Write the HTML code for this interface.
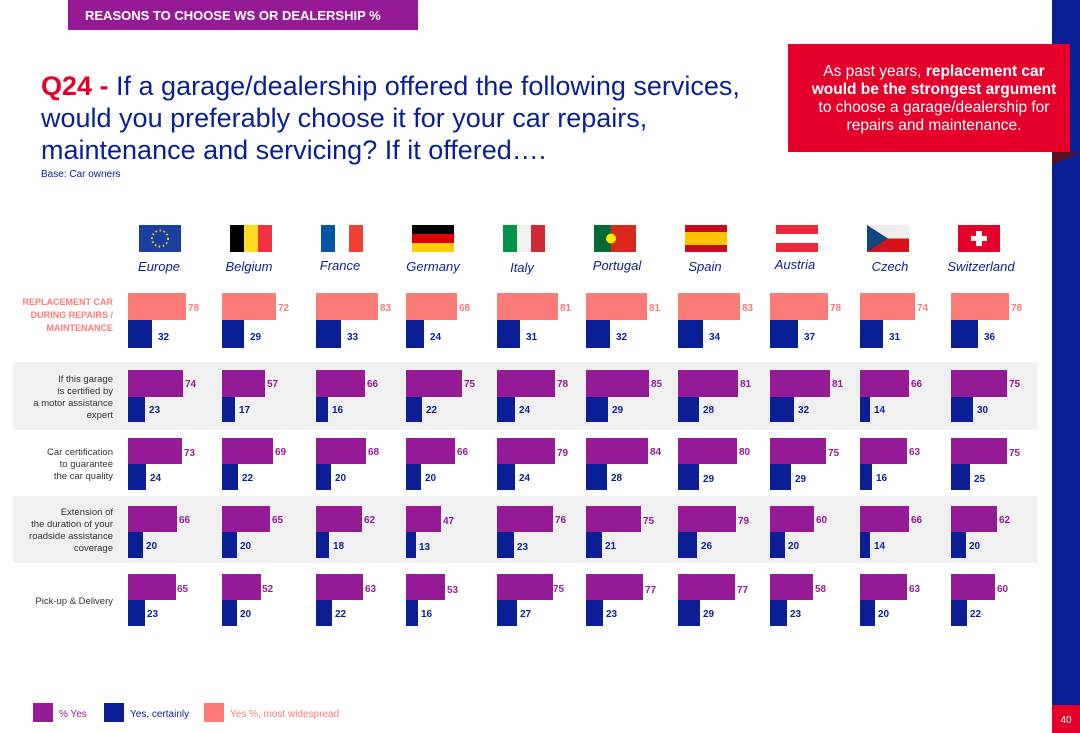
<!DOCTYPE html><html><head><meta charset="utf-8"><style>body{margin:0}svg{display:block;font-family:"Liberation Sans",sans-serif}</style></head><body>
<svg width="1080" height="733" viewBox="0 0 1080 733" xmlns="http://www.w3.org/2000/svg">
<rect width="1080" height="733" fill="#fff"/>
<rect x="68" y="0" width="350" height="30" fill="#951b96"/>
<text x="85" y="20" fill="#fff" font-size="13" font-weight="bold">REASONS TO CHOOSE WS OR DEALERSHIP %</text>
<rect x="1052" y="0" width="28" height="733" fill="#0a1f96"/>
<polygon points="1052,152 1080,152 1052,165" fill="#5a1020"/>
<rect x="788" y="44" width="282" height="108" fill="#e4002b"/>
<g fill="#fff" font-size="15.5" text-anchor="middle"><text x="934" y="76">As past years, <tspan font-weight="bold">replacement car</tspan></text><text x="934" y="94" font-weight="bold">would be the strongest argument</text><text x="934" y="112">to choose a garage/dealership for</text><text x="934" y="130">repairs and maintenance.</text></g>
<rect x="1052" y="705" width="28" height="28" fill="#e4002b"/><text x="1066" y="723" fill="#fff" font-size="10" text-anchor="middle">40</text>
<g font-size="27" fill="#0a1f96"><text x="41" y="95"><tspan fill="#e4002b" font-weight="bold">Q24 -</tspan> If a garage/dealership offered the following services,</text><text x="41" y="127">would you preferably choose it for your car repairs,</text><text x="41" y="159">maintenance and servicing? If it offered….</text></g>
<text x="41" y="177" font-size="10" fill="#0a1f96">Base: Car owners</text>
<rect x="13" y="362" width="1025" height="68" fill="#f0f0f0"/>
<rect x="13" y="496" width="1025" height="67" fill="#f0f0f0"/>
<g font-size="9" fill="#fb7b76" font-weight="bold" text-anchor="end"><text x="113" y="305">REPLACEMENT CAR</text><text x="113" y="318">DURING REPAIRS /</text><text x="113" y="331">MAINTENANCE</text></g>
<g font-size="9.5" fill="#333" text-anchor="end"><text x="113" y="382">If this garage</text><text x="113" y="394">is certified by</text><text x="113" y="406">a motor assistance</text><text x="113" y="418">expert</text>
<text x="113" y="455">Car certification</text><text x="113" y="467">to guarantee</text><text x="113" y="479">the car quality</text>
<text x="113" y="515">Extension of</text><text x="113" y="527">the duration of your</text><text x="113" y="539">roadside assistance</text><text x="113" y="551">coverage</text>
<text x="113" y="604">Pick-up &amp; Delivery</text></g>
<!-- flags -->
<rect x="139" y="225" width="42" height="27" fill="#1a3fa0"/><circle cx="160" cy="238.5" r="8" fill="none" stroke="#ffd800" stroke-width="2" stroke-dasharray="1.5 2.6"/>
<rect x="230" y="225" width="14" height="27" fill="#000"/><rect x="244" y="225" width="14" height="27" fill="#fdda24"/><rect x="258" y="225" width="14" height="27" fill="#ef3340"/>
<rect x="321" y="225" width="14" height="27" fill="#0055a4"/><rect x="335" y="225" width="14" height="27" fill="#fff"/><rect x="349" y="225" width="14" height="27" fill="#ef4135"/>
<rect x="412" y="225" width="42" height="9" fill="#000"/><rect x="412" y="234" width="42" height="9" fill="#dd0000"/><rect x="412" y="243" width="42" height="9" fill="#ffce00"/>
<rect x="503" y="225" width="14" height="27" fill="#009246"/><rect x="517" y="225" width="14" height="27" fill="#f1f1f1"/><rect x="531" y="225" width="14" height="27" fill="#ce2b37"/>
<rect x="594" y="225" width="17" height="27" fill="#046a38"/><rect x="611" y="225" width="25" height="27" fill="#da291c"/><circle cx="611" cy="238.5" r="5" fill="#ffe900"/>
<rect x="685" y="225" width="42" height="7" fill="#c60b1e"/><rect x="685" y="232" width="42" height="13" fill="#ffc400"/><rect x="685" y="245" width="42" height="7" fill="#c60b1e"/>
<rect x="776" y="225" width="42" height="9" fill="#ed2939"/><rect x="776" y="243" width="42" height="9" fill="#ed2939"/>
<rect x="867" y="225" width="42" height="13.5" fill="#eee"/><rect x="867" y="238.5" width="42" height="13.5" fill="#d7141a"/><polygon points="867,225 888,238.5 867,252" fill="#11457e"/>
<rect x="958" y="225" width="42" height="27" fill="#e4002b"/><rect x="976" y="231" width="6" height="15" fill="#fff"/><rect x="971" y="236" width="16" height="5" fill="#fff"/>
<g font-size="13" fill="#0a1f96" font-style="italic" text-anchor="middle"><text x="159" y="271">Europe</text><text x="249" y="271">Belgium</text><text x="340" y="270">France</text><text x="433" y="271">Germany</text><text x="522" y="272">Italy</text><text x="617" y="270">Portugal</text><text x="705" y="271">Spain</text><text x="795" y="269">Austria</text><text x="890" y="271">Czech</text><text x="981" y="271">Switzerland</text></g>
<!-- row 0 -->
<g fill="#fb7b76"><rect x="128" y="293" width="58" height="27"/><rect x="222" y="293" width="54" height="27"/><rect x="316" y="293" width="62" height="27"/><rect x="406" y="293" width="51" height="27"/><rect x="497" y="293" width="61" height="27"/><rect x="586" y="293" width="61" height="27"/><rect x="678" y="293" width="62" height="27"/><rect x="770" y="293" width="58" height="27"/><rect x="860" y="293" width="55" height="27"/><rect x="951" y="293" width="58" height="27"/></g>
<g fill="#fb7b76" font-size="10" font-weight="bold"><text x="188" y="311">78</text><text x="278" y="311">72</text><text x="380" y="311">83</text><text x="459" y="311">68</text><text x="560" y="311">81</text><text x="649" y="311">81</text><text x="742" y="311">83</text><text x="830" y="311">78</text><text x="917" y="311">74</text><text x="1011" y="311">78</text></g>
<g fill="#0a1f96"><rect x="128" y="320" width="24" height="28"/><rect x="222" y="320" width="22" height="28"/><rect x="316" y="320" width="25" height="28"/><rect x="406" y="320" width="18" height="28"/><rect x="497" y="320" width="23" height="28"/><rect x="586" y="320" width="24" height="28"/><rect x="678" y="320" width="25" height="28"/><rect x="770" y="320" width="28" height="28"/><rect x="860" y="320" width="23" height="28"/><rect x="951" y="320" width="27" height="28"/></g>
<g fill="#0a1f96" font-size="10" font-weight="bold"><text x="158" y="340">32</text><text x="250" y="340">29</text><text x="347" y="340">33</text><text x="430" y="340">24</text><text x="526" y="340">31</text><text x="616" y="340">32</text><text x="709" y="340">34</text><text x="804" y="340">37</text><text x="889" y="340">31</text><text x="984" y="340">36</text></g>
<!-- row 1 -->
<g fill="#951b96"><rect x="128" y="370" width="55" height="27"/><rect x="222" y="370" width="43" height="27"/><rect x="316" y="370" width="49" height="27"/><rect x="406" y="370" width="56" height="27"/><rect x="497" y="370" width="58" height="27"/><rect x="586" y="370" width="63" height="27"/><rect x="678" y="370" width="60" height="27"/><rect x="770" y="370" width="60" height="27"/><rect x="860" y="370" width="49" height="27"/><rect x="951" y="370" width="56" height="27"/></g>
<g fill="#951b96" font-size="10" font-weight="bold"><text x="185" y="387">74</text><text x="267" y="387">57</text><text x="367" y="387">66</text><text x="464" y="387">75</text><text x="557" y="387">78</text><text x="651" y="387">85</text><text x="740" y="387">81</text><text x="832" y="387">81</text><text x="911" y="387">66</text><text x="1009" y="387">75</text></g>
<g fill="#0a1f96"><rect x="128" y="397" width="17" height="25"/><rect x="222" y="397" width="13" height="25"/><rect x="316" y="397" width="12" height="25"/><rect x="406" y="397" width="16" height="25"/><rect x="497" y="397" width="18" height="25"/><rect x="586" y="397" width="22" height="25"/><rect x="678" y="397" width="21" height="25"/><rect x="770" y="397" width="24" height="25"/><rect x="860" y="397" width="10" height="25"/><rect x="951" y="397" width="22" height="25"/></g>
<g fill="#0a1f96" font-size="10" font-weight="bold"><text x="149" y="413">23</text><text x="239" y="413">17</text><text x="332" y="413">16</text><text x="426" y="413">22</text><text x="519" y="413">24</text><text x="612" y="413">29</text><text x="703" y="413">28</text><text x="798" y="413">32</text><text x="874" y="413">14</text><text x="977" y="413">30</text></g>
<!-- row 2 -->
<g fill="#951b96"><rect x="128" y="438" width="54" height="26"/><rect x="222" y="438" width="51" height="26"/><rect x="316" y="438" width="50" height="26"/><rect x="406" y="438" width="49" height="26"/><rect x="497" y="438" width="58" height="26"/><rect x="586" y="438" width="62" height="26"/><rect x="678" y="438" width="59" height="26"/><rect x="770" y="438" width="56" height="26"/><rect x="860" y="438" width="47" height="26"/><rect x="951" y="438" width="56" height="26"/></g>
<g fill="#951b96" font-size="10" font-weight="bold"><text x="184" y="456">73</text><text x="275" y="455">69</text><text x="368" y="455">68</text><text x="457" y="455">66</text><text x="557" y="456">79</text><text x="650" y="455">84</text><text x="739" y="455">80</text><text x="828" y="456">75</text><text x="909" y="455">63</text><text x="1009" y="456">75</text></g>
<g fill="#0a1f96"><rect x="128" y="464" width="18" height="26"/><rect x="222" y="464" width="16" height="26"/><rect x="316" y="464" width="15" height="26"/><rect x="406" y="464" width="15" height="26"/><rect x="497" y="464" width="18" height="26"/><rect x="586" y="464" width="21" height="26"/><rect x="678" y="464" width="21" height="26"/><rect x="770" y="464" width="21" height="26"/><rect x="860" y="464" width="12" height="26"/><rect x="951" y="464" width="19" height="26"/></g>
<g fill="#0a1f96" font-size="10" font-weight="bold"><text x="150" y="481">24</text><text x="242" y="481">22</text><text x="335" y="481">20</text><text x="425" y="481">20</text><text x="519" y="481">24</text><text x="611" y="481">28</text><text x="703" y="482">29</text><text x="795" y="482">29</text><text x="876" y="481">16</text><text x="974" y="482">25</text></g>
<!-- row 3 -->
<g fill="#951b96"><rect x="128" y="506" width="49" height="26"/><rect x="222" y="506" width="48" height="26"/><rect x="316" y="506" width="46" height="26"/><rect x="406" y="506" width="35" height="26"/><rect x="497" y="506" width="56" height="26"/><rect x="586" y="506" width="55" height="26"/><rect x="678" y="506" width="58" height="26"/><rect x="770" y="506" width="44" height="26"/><rect x="860" y="506" width="49" height="26"/><rect x="951" y="506" width="46" height="26"/></g>
<g fill="#951b96" font-size="10" font-weight="bold"><text x="179" y="523">66</text><text x="272" y="523">65</text><text x="364" y="523">62</text><text x="443" y="524">47</text><text x="555" y="523">76</text><text x="643" y="524">75</text><text x="738" y="524">79</text><text x="816" y="523">60</text><text x="911" y="523">66</text><text x="999" y="523">62</text></g>
<g fill="#0a1f96"><rect x="128" y="532" width="15" height="26"/><rect x="222" y="532" width="15" height="26"/><rect x="316" y="532" width="13" height="26"/><rect x="406" y="532" width="10" height="26"/><rect x="497" y="532" width="17" height="26"/><rect x="586" y="532" width="16" height="26"/><rect x="678" y="532" width="19" height="26"/><rect x="770" y="532" width="15" height="26"/><rect x="860" y="532" width="10" height="26"/><rect x="951" y="532" width="15" height="26"/></g>
<g fill="#0a1f96" font-size="10" font-weight="bold"><text x="146" y="549">20</text><text x="240" y="549">20</text><text x="333" y="549">18</text><text x="419" y="550">13</text><text x="517" y="550">23</text><text x="605" y="549">21</text><text x="701" y="549">26</text><text x="788" y="549">20</text><text x="874" y="549">14</text><text x="969" y="549">20</text></g>
<!-- row 4 -->
<g fill="#951b96"><rect x="128" y="574" width="48" height="26"/><rect x="222" y="574" width="39" height="26"/><rect x="316" y="574" width="47" height="26"/><rect x="406" y="574" width="39" height="26"/><rect x="497" y="574" width="56" height="26"/><rect x="586" y="574" width="57" height="26"/><rect x="678" y="574" width="57" height="26"/><rect x="770" y="574" width="43" height="26"/><rect x="860" y="574" width="47" height="26"/><rect x="951" y="574" width="44" height="26"/></g>
<g fill="#951b96" font-size="10" font-weight="bold"><text x="177" y="592">65</text><text x="262" y="592">52</text><text x="365" y="592">63</text><text x="447" y="593">53</text><text x="553" y="592">75</text><text x="645" y="593">77</text><text x="737" y="593">77</text><text x="815" y="592">58</text><text x="909" y="592">63</text><text x="997" y="592">60</text></g>
<g fill="#0a1f96"><rect x="128" y="600" width="17" height="26"/><rect x="222" y="600" width="15" height="26"/><rect x="316" y="600" width="16" height="26"/><rect x="406" y="600" width="12" height="26"/><rect x="497" y="600" width="20" height="26"/><rect x="586" y="600" width="17" height="26"/><rect x="678" y="600" width="22" height="26"/><rect x="770" y="600" width="17" height="26"/><rect x="860" y="600" width="15" height="26"/><rect x="951" y="600" width="16" height="26"/></g>
<g fill="#0a1f96" font-size="10" font-weight="bold"><text x="147" y="617">23</text><text x="240" y="617">20</text><text x="335" y="617">22</text><text x="421" y="617">16</text><text x="520" y="617">27</text><text x="606" y="617">23</text><text x="703" y="617">29</text><text x="790" y="617">23</text><text x="878" y="617">20</text><text x="970" y="617">22</text></g>
<!-- legend -->
<rect x="33" y="703" width="20" height="19" fill="#951b96"/><text x="59" y="717" font-size="10" fill="#951b96">% Yes</text>
<rect x="104" y="703" width="20" height="19" fill="#0a1f96"/><text x="130" y="717" font-size="10" fill="#0a1f96">Yes, certainly</text>
<rect x="204" y="703" width="20" height="19" fill="#fb7b76"/><text x="230" y="717" font-size="10" fill="#fb7b76">Yes %, most widespread</text>
</svg></body></html>
